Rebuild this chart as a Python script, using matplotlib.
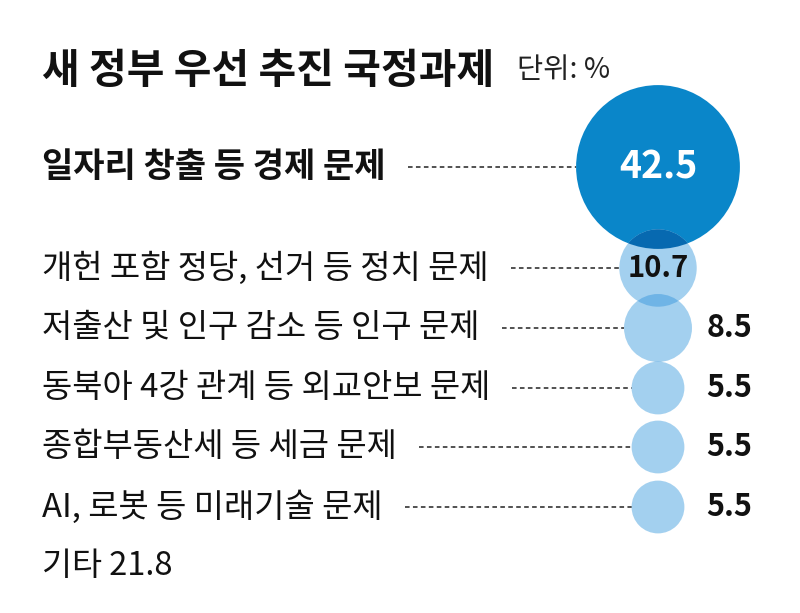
import numpy as np
import matplotlib
matplotlib.use('Agg')
import matplotlib.pyplot as plt
from matplotlib.patches import Circle

plt.rcParams['font.family'] = ['Noto Sans CJK KR', 'DejaVu Sans']

title = '새 정부 우선 추진 국정과제'
unit = '단위: %'
labels = ['일자리 창출 등 경제 문제', '개헌 포함 정당, 선거 등 정치 문제',
          '저출산 및 인구 감소 등 인구 문제', '동북아 4강 관계 등 외교안보 문제',
          '종합부동산세 등 세금 문제', 'AI, 로봇 등 미래기술 문제']
values = [42.5, 10.7, 8.5, 5.5, 5.5, 5.5]
other_label = '기타'
other_value = 21.8

dark_blue = '#0a86c9'
light_blue = '#a3d0ef'
light_overlap = '#6fb4e6'
dark_overlap = '#0769b0'

W, H = 800, 613
fig = plt.figure(figsize=(W / 100, H / 100), dpi=100)
ax = fig.add_axes([0, 0, 1, 1])
ax.set_xlim(0, W)
ax.set_ylim(H, 0)
ax.axis('off')

cx = 658
row_y = [167, 268, 328, 388, 447, 507]


def radius(v):
    return 13.3 * np.sqrt(v) - 4.8


ax.text(42, 71, title, fontsize=29.5, fontweight='bold', va='center', color='#111111')
ax.text(517, 70, unit, fontsize=20.5, va='center', color='#222222')

fig.canvas.draw()
renderer = fig.canvas.get_renderer()

for i, (lab, v) in enumerate(zip(labels, values)):
    y = row_y[i]
    r = radius(v)
    col = dark_blue if i == 0 else light_blue
    ax.add_patch(Circle((cx, y), r, facecolor=col, edgecolor='none', zorder=2))
    # overlap with previous circle drawn darker
    if i > 0:
        py, pr = row_y[i - 1], radius(values[i - 1])
        if (y - py) < (r + pr):
            ov = Circle((cx, y), r, facecolor=dark_overlap if i == 1 else light_overlap,
                        edgecolor='none', zorder=3)
            ax.add_patch(ov)
            ov.set_clip_path(Circle((cx, py), pr, transform=ax.transData))

    t = ax.text(42, y, lab, fontsize=24.5 if i == 0 else 23.7,
                fontweight='bold' if i == 0 else 'normal', va='center', color='#111111')
    bb = t.get_window_extent(renderer=renderer)
    x0 = bb.x1 + 22
    ax.plot([x0, cx - r], [y, y], color='#222222', lw=1.1,
            linestyle=(0, (3.0, 2.2)), zorder=1)

    if i == 0:
        ax.text(cx, y, f'{v:.1f}', fontsize=27, fontweight='bold', color='white',
                ha='center', va='center', zorder=5)
    elif i == 1:
        ax.text(cx, y, f'{v:.1f}', fontsize=21, fontweight='bold', color='#111111',
                ha='center', va='center', zorder=5)
    else:
        ax.text(752, y, f'{v:.1f}', fontsize=22, fontweight='bold', color='#111111',
                ha='right', va='center', zorder=5)

ax.text(42, 566, f'{other_label} {other_value:.1f}', fontsize=23.5, va='center',
        color='#111111')

fig.savefig('out.png', dpi=100)
